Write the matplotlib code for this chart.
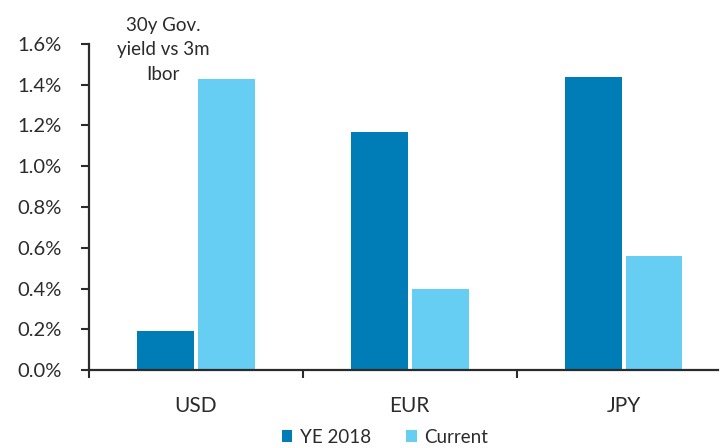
import matplotlib.pyplot as plt
import numpy as np
from matplotlib.ticker import FuncFormatter

plt.rcParams['font.family'] = ['Lato', 'DejaVu Sans']

# 30y government yield minus 3m Ibor, in percent
currencies = ['USD', 'EUR', 'JPY']
ye_2018 = [0.19, 1.17, 1.44]
current = [1.43, 0.40, 0.56]

dark_blue = '#007CB7'
light_blue = '#66CDF3'
text_col = '#2b2b2b'

fig = plt.figure(figsize=(7.25, 4.48), dpi=100)
ax = fig.add_axes([0.1228, 0.174, 0.8672, 0.728])

x = np.arange(len(currencies))
w = 0.266
off = w / 2 + 0.009
ax.bar(x - off, ye_2018, width=w, color=dark_blue, label='YE 2018')
ax.bar(x + off, current, width=w, color=light_blue, label='Current')

ax.set_xlim(-0.5, 2.44)
ax.set_ylim(0, 1.6)
ax.set_yticks(np.arange(0, 1.61, 0.2))
ax.yaxis.set_major_formatter(FuncFormatter(lambda v, p: f'{v:.1f}%'))

# category labels centred, ticks on the group boundaries
ax.set_xticks([0.5, 1.5, -0.5])
ax.set_xticklabels([])
ax.set_xticks(x, minor=True)
ax.set_xticklabels(currencies, minor=True)
ax.tick_params(axis='x', which='minor', length=0, pad=19, labelsize=15, labelcolor=text_col)
ax.tick_params(axis='x', which='major', length=6, width=1.5, color=text_col, direction='out')
ax.tick_params(axis='y', length=6, width=1.5, color=text_col, labelsize=14.5,
               labelcolor=text_col, pad=14)

for side in ['top', 'right']:
    ax.spines[side].set_visible(False)
for side in ['left', 'bottom']:
    ax.spines[side].set_color(text_col)
    ax.spines[side].set_linewidth(1.6)

fig.text(163 / 725, 1 - 50 / 448, '30y Gov.\nyield vs 3m\nIbor', ha='center', va='center',
         fontsize=13.5, color=text_col, linespacing=1.5)

fig.legend(loc='center', bbox_to_anchor=(0.531, 1 - 437 / 448), ncol=2, frameon=False,
           fontsize=13.5, labelcolor=text_col, handlelength=0.55, handleheight=0.55,
           handletextpad=0.4, columnspacing=1.9, borderpad=0)

fig.savefig('out.png', dpi=100)
